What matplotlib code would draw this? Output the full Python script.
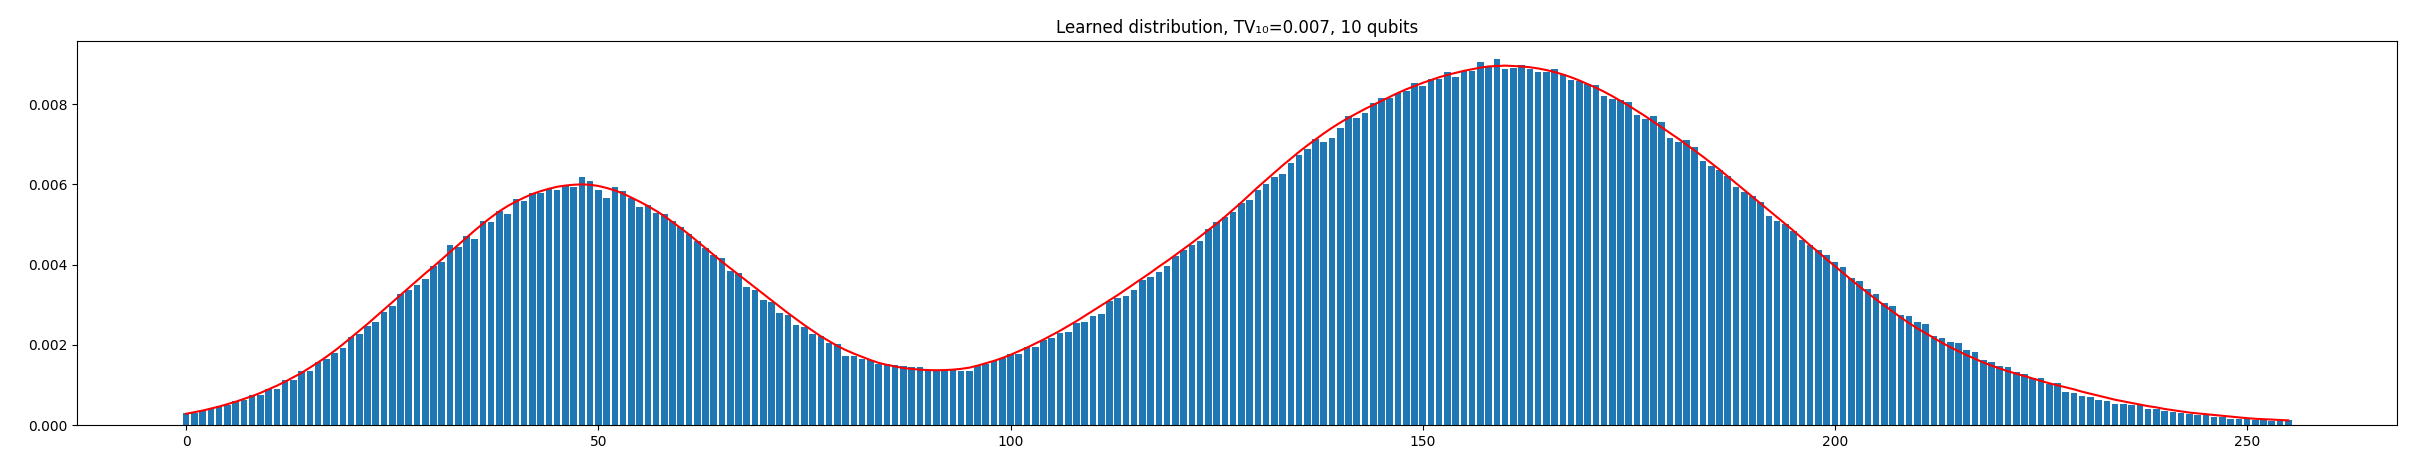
import numpy as np
from matplotlib import pyplot as plt

# bar heights, units of 1e-5
learned = [
    29, 30, 37, 39, 47, 49, 60, 62, 74, 75, 89, 91, 111, 112, 134, 135,
    156, 165, 180, 191, 219, 227, 246, 256, 281, 297, 326, 337, 350, 365, 396, 406,
    448, 443, 471, 464, 509, 507, 533, 526, 564, 558, 578, 579, 589, 586, 596, 593,
    619, 608, 586, 566, 593, 583, 566, 544, 548, 529, 527, 508, 494, 475, 460, 441,
    425, 416, 385, 379, 344, 336, 312, 307, 279, 274, 250, 244, 227, 221, 204, 202,
    171, 173, 164, 162, 152, 152, 149, 147, 145, 145, 136, 136, 137, 137, 135, 135,
    148, 152, 160, 167, 177, 178, 195, 195, 211, 217, 229, 231, 254, 257, 273, 277,
    310, 317, 322, 337, 361, 369, 382, 397, 421, 436, 450, 458, 489, 507, 519, 531,
    554, 561, 587, 602, 618, 627, 654, 672, 689, 712, 706, 715, 741, 771, 765, 778,
    802, 816, 815, 829, 833, 852, 846, 862, 862, 881, 868, 882, 882, 904, 896, 912,
    887, 890, 897, 887, 881, 881, 887, 875, 860, 857, 850, 847, 821, 812, 811, 806,
    773, 762, 771, 756, 716, 706, 711, 694, 658, 646, 636, 622, 594, 581, 571, 556,
    522, 509, 500, 484, 462, 450, 437, 425, 406, 394, 367, 358, 339, 327, 304, 296,
    275, 271, 256, 252, 222, 217, 208, 204, 186, 182, 162, 158, 146, 144, 131, 127,
    117, 117, 102, 104, 82, 79, 72, 71, 62, 61, 52, 52, 50, 52, 41, 39,
    35, 33, 29, 28, 25, 25, 21, 19, 16, 15, 14, 12.5, 11.7, 10.8, 10.8, 12.5,
]

# red target curve, units of 1e-5
target = [
    28, 32, 36, 41, 46, 52, 58, 65, 72, 80, 89, 98, 108, 119, 130, 143,
    156, 170, 185, 201, 218, 235, 252, 270, 288, 306, 324, 342, 360, 378, 395, 413,
    431, 449, 467, 485, 502, 518, 533, 546, 557, 567, 576, 583, 589, 594, 597, 599,
    600, 599, 596, 591, 585, 577, 567, 557, 546, 534, 521, 506, 491, 475, 458, 441,
    424, 407, 391, 375, 359, 343, 327, 311, 295, 279, 264, 249, 235, 221, 209, 197,
    187, 178, 170, 162, 155, 150, 146, 142, 140, 138, 137, 136.5, 137, 138, 140, 143,
    148, 154, 160, 167, 175, 184, 193, 203, 213, 224, 235, 247, 259, 272, 285, 298,
    311, 324, 338, 352, 366, 380, 395, 409, 424, 439, 454, 470, 486, 502, 519, 537,
    555, 574, 593, 611, 629, 647, 664, 681, 697, 712, 727, 741, 754, 766, 777, 788,
    798, 808, 818, 828, 837, 845, 853, 860, 867, 873, 878, 883, 887, 891, 894, 895,
    896, 895, 894, 892, 889, 885, 880, 874, 867, 859, 850, 841, 831, 820, 808, 796,
    783, 770, 756, 742, 728, 714, 699, 684, 669, 653, 637, 620, 603, 586, 569, 552,
    535, 518, 501, 484, 466, 448, 431, 413, 396, 379, 362, 345, 329, 313, 298, 283,
    268, 254, 241, 229, 217, 205, 194, 184, 174, 165, 156, 148, 141, 134, 128, 122,
    116, 110, 104, 99, 94, 89, 83, 78, 73, 68, 63, 59, 55, 51, 47, 44,
    40, 37, 34, 31, 29, 27, 25, 23, 21, 19, 17, 15.5, 14.5, 13.5, 12.5, 11.5,
]

states = np.arange(len(learned))
learned = np.array(learned) * 1e-5
target = np.array(target) * 1e-5

fig, ax = plt.subplots(figsize=(24.2, 4.65), dpi=100)
fig.subplots_adjust(left=0.032, right=0.9905, top=0.912, bottom=0.086)

ax.bar(states, learned, color='C0')
ax.plot(states, target, color='red', linewidth=1.5)
ax.set_title('Learned distribution, TV\u2081\u2080=0.007, 10 qubits')

fig.savefig('out.png')
